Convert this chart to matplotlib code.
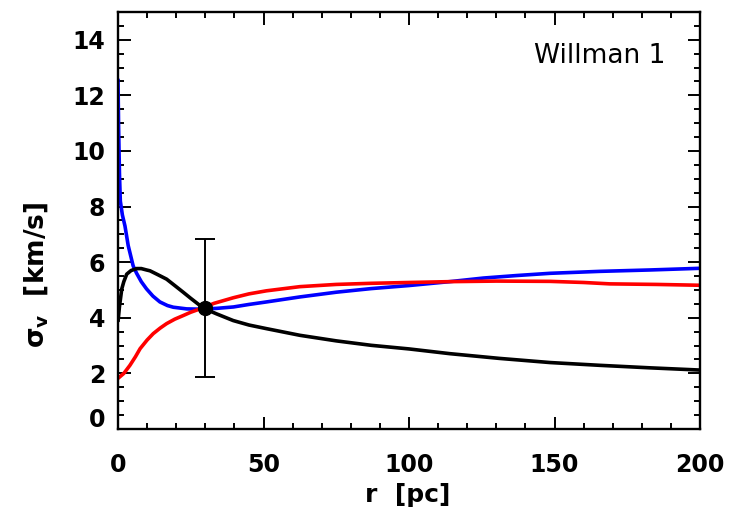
import matplotlib
matplotlib.use("Agg")
import matplotlib.pyplot as plt
from matplotlib.transforms import ScaledTranslation

# Velocity dispersion profiles sigma_v(r) for Willman 1
r_blue = [0, 0.2, 0.5, 0.8, 1.5, 2.4, 3.5, 5.2, 6.4, 8, 9.8, 12, 14.4, 17, 19,
          23.6, 28.2, 34, 39.7, 45, 51, 62.5, 75, 87, 100, 114, 125.6, 137,
          148.5, 165.6, 182.8, 200]
sig_blue = [12.6, 10.9, 9.2, 8.2, 7.7, 7.3, 6.6, 5.87, 5.6, 5.3, 5.04, 4.78,
            4.57, 4.44, 4.38, 4.32, 4.31, 4.34, 4.39, 4.48, 4.57, 4.75, 4.92,
            5.05, 5.16, 5.30, 5.43, 5.52, 5.60, 5.67, 5.72, 5.78]

r_red = [0, 2, 4.1, 6, 7.6, 10, 12.1, 14.5, 16.7, 19.5, 22.4, 25, 28.2, 33,
         39.6, 45, 51, 62.5, 75, 87, 100, 114, 130, 148.5, 160, 169, 185, 200]
sig_red = [1.82, 2.0, 2.29, 2.6, 2.89, 3.2, 3.43, 3.63, 3.79, 3.95, 4.08, 4.2,
           4.32, 4.52, 4.72, 4.86, 4.97, 5.12, 5.20, 5.24, 5.27, 5.30, 5.32,
           5.31, 5.27, 5.22, 5.20, 5.17]

r_black = [0, 0.5, 1.3, 2, 3, 4.5, 6.4, 8, 9.8, 11, 13.5, 16.7, 19.5, 22.4,
           25, 28.2, 31, 33.9, 39.6, 45, 51, 62.5, 75, 87, 100, 114, 131,
           148.5, 165.6, 182.8, 200]
sig_black = [3.85, 4.4, 5.04, 5.3, 5.57, 5.70, 5.77, 5.77, 5.72, 5.69, 5.56,
             5.39, 5.16, 4.92, 4.70, 4.44, 4.27, 4.14, 3.90, 3.74, 3.61, 3.37,
             3.17, 3.01, 2.88, 2.71, 2.54, 2.39, 2.29, 2.20, 2.12]

# Measured dispersion
r_obs = [30]
sig_obs = [4.34]
sig_err = [2.48]

x_ticks = [0, 50, 100, 150, 200]
y_ticks = [0, 2, 4, 6, 8, 10, 12, 14]
galaxy = "Willman 1"

plt.rcParams["font.family"] = ["DejaVu Sans"]
plt.rcParams["mathtext.fontset"] = "dejavusans"
fig = plt.figure(figsize=(7.32, 5.20), dpi=100)
ax = fig.add_axes([0.1612, 0.175, 0.7951, 0.802])

ax.plot(r_blue, sig_blue, color="#0000ff", lw=2.6, solid_capstyle="butt")
ax.plot(r_red, sig_red, color="#ff0000", lw=2.6, solid_capstyle="butt")
ax.plot(r_black, sig_black, color="black", lw=2.6, solid_capstyle="butt")
ax.errorbar(r_obs, sig_obs, yerr=sig_err, fmt="o", color="black",
            ms=10, elinewidth=1.4, capsize=7.2, capthick=1.4, zorder=5)

ax.set_xlim(0, 200)
ax.set_ylim(0, 15)
ax.set_xticks(x_ticks)
ax.set_xticks(range(0, 201, 10), minor=True)
ax.set_yticks(y_ticks)
ax.set_yticks([v * 0.5 for v in range(0, 31)], minor=True)

for s in ax.spines.values():
    s.set_linewidth(1.7)

ax.tick_params(which="both", direction="in", top=True, right=True,
               width=1.4, labelsize=17)
ax.tick_params(which="major", length=9)
ax.tick_params(which="minor", length=4.5)
ax.tick_params(axis="x", which="major", pad=17)
ax.tick_params(axis="y", which="major", pad=9)
for lbl in ax.get_xticklabels() + ax.get_yticklabels():
    lbl.set_fontweight("bold")

ax.set_xlabel("r  [pc]", fontsize=18, fontweight="bold")
ax.set_ylabel(r"$\mathbf{\sigma_{v}}$  [km/s]", fontsize=19, fontweight="bold")
ax.xaxis.set_label_coords(0.497, -0.13)
ax.yaxis.set_label_coords(-0.117, 0.37)

ax.text(0.94, 0.894, galaxy, transform=ax.transAxes, ha="right",
        va="center", fontsize=19)

# lift the lowest y tick label clear of the x axis
lbl0 = ax.get_yticklabels()[0]
lbl0.set_transform(lbl0.get_transform() +
                   ScaledTranslation(0, 8 / 72, fig.dpi_scale_trans))

fig.savefig("out.png", dpi=100)
